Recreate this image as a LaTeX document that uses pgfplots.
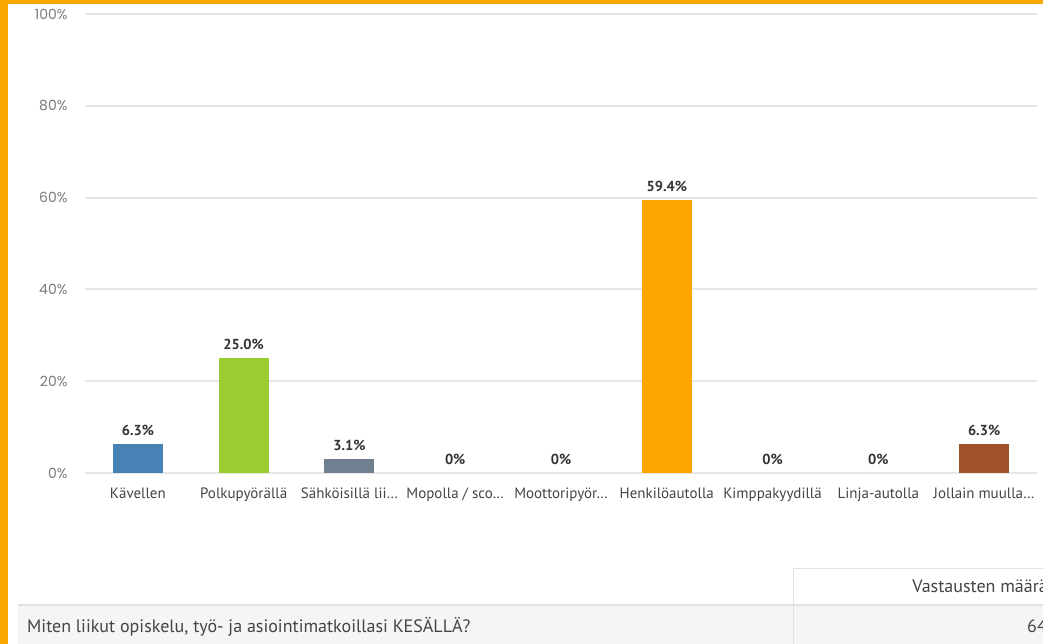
\documentclass[border=0pt]{standalone}
\usepackage{fontspec}
\setmainfont{PT Sans}
\newfontfamily\geofont{Poppins}
\usepackage{pgfplots}
\usepackage{pgfplotstable}
\pgfplotsset{compat=1.18}

\definecolor{kehys}{HTML}{F8A800}
\definecolor{rivi}{HTML}{F5F5F5}
\definecolor{viiva}{HTML}{E2E2E2}
\definecolor{ruudukko}{HTML}{E6E6E6}
\definecolor{teksti}{HTML}{444444}
\definecolor{asteikko}{HTML}{7A7A7A}
\definecolor{sininen}{HTML}{4682B4}
\definecolor{vihrea}{HTML}{9ACD32}
\definecolor{harmaa}{HTML}{708090}
\definecolor{oranssi}{HTML}{FFA500}
\definecolor{ruskea}{HTML}{A0522D}

% osuudet prosentteina, lab = arvon teksti pylvaan paalla
\pgfplotstableread{
x y lab
0 6.3 6.3
1 25.0 25.0
2 3.1 3.1
3 0 0
4 0 0
5 59.4 59.4
6 0 0
7 0 0
8 6.3 6.3
}\osuudet

\begin{document}
\begin{tikzpicture}[x=1pt,y=1pt]
\useasboundingbox (0,0) rectangle (1043,644);
\clip (0,0) rectangle (1043,644);
\fill[white] (0,0) rectangle (1043,644);
\fill[kehys] (0,0) rectangle (8,644);
\fill[kehys] (0,640) rectangle (1043,644);

% taulukko kuvan alla
\fill[rivi] (18,0) rectangle (1043,39);
\draw[viiva, line width=1.5pt] (18,39) -- (1043,39);
\draw[viiva, line width=1pt] (793,0) -- (793,75) -- (1043,75);
\node[anchor=base west, inner sep=0pt, text=teksti, font=\fontsize{18}{20}\selectfont]
  at (27,11) {Miten liikut opiskelu, työ- ja asiointimatkoillasi KESÄLLÄ?};
\node[anchor=base east, inner sep=0pt, text=teksti, font=\fontsize{18}{20}\selectfont]
  at (1048,51) {Vastausten määrä};
\node[anchor=base east, inner sep=0pt, text=teksti, font=\fontsize{18}{20}\selectfont]
  at (1047,11) {64};

\begin{axis}[
  at={(85pt,171pt)}, anchor=south west,
  scale only axis, width=952pt, height=459pt,
  xmin=-0.5, xmax=8.5, ymin=0, ymax=100,
  ybar, bar width=50pt,
  ytick={0,20,...,100},
  yticklabel={\pgfmathprintnumber{\tick}\%},
  xtick={0,...,8},
  xticklabels={Kävellen, Polkupyörällä, Sähköisillä lii…, Mopolla / sco…,
    Moottoripyör…, Henkilöautolla, Kimppakyydillä, Linja-autolla, Jollain muulla…},
  /pgf/number format/assume math mode=true,
  axis line style={draw=none},
  major tick length=0pt,
  ymajorgrids,
  major grid style={ruudukko, line width=2pt},
  yticklabel style={font=\geofont\fontsize{14}{16}\selectfont, text=asteikko, xshift=-14pt},
  xticklabel style={font=\fontsize{15}{17}\selectfont, text=teksti, yshift=-11pt},
  every node near coord/.append style={font=\bfseries\fontsize{14.5}{16}\selectfont,
    text=black!80, yshift=5pt},
  clip=false,
]
\addplot[fill=sininen, draw=none, bar shift=0pt] coordinates {(0,6.3)};
\addplot[fill=vihrea, draw=none, bar shift=0pt] coordinates {(1,25.0)};
\addplot[fill=harmaa, draw=none, bar shift=0pt] coordinates {(2,3.1)};
\addplot[fill=oranssi, draw=none, bar shift=0pt] coordinates {(5,59.4)};
\addplot[fill=ruskea, draw=none, bar shift=0pt] coordinates {(8,6.3)};
\addplot[draw=none, fill=none, bar shift=0pt, nodes near coords={\pgfplotspointmeta\%},
  point meta=explicit symbolic] table[x=x, y=y, meta=lab] {\osuudet};
\end{axis}
\end{tikzpicture}
\end{document}
